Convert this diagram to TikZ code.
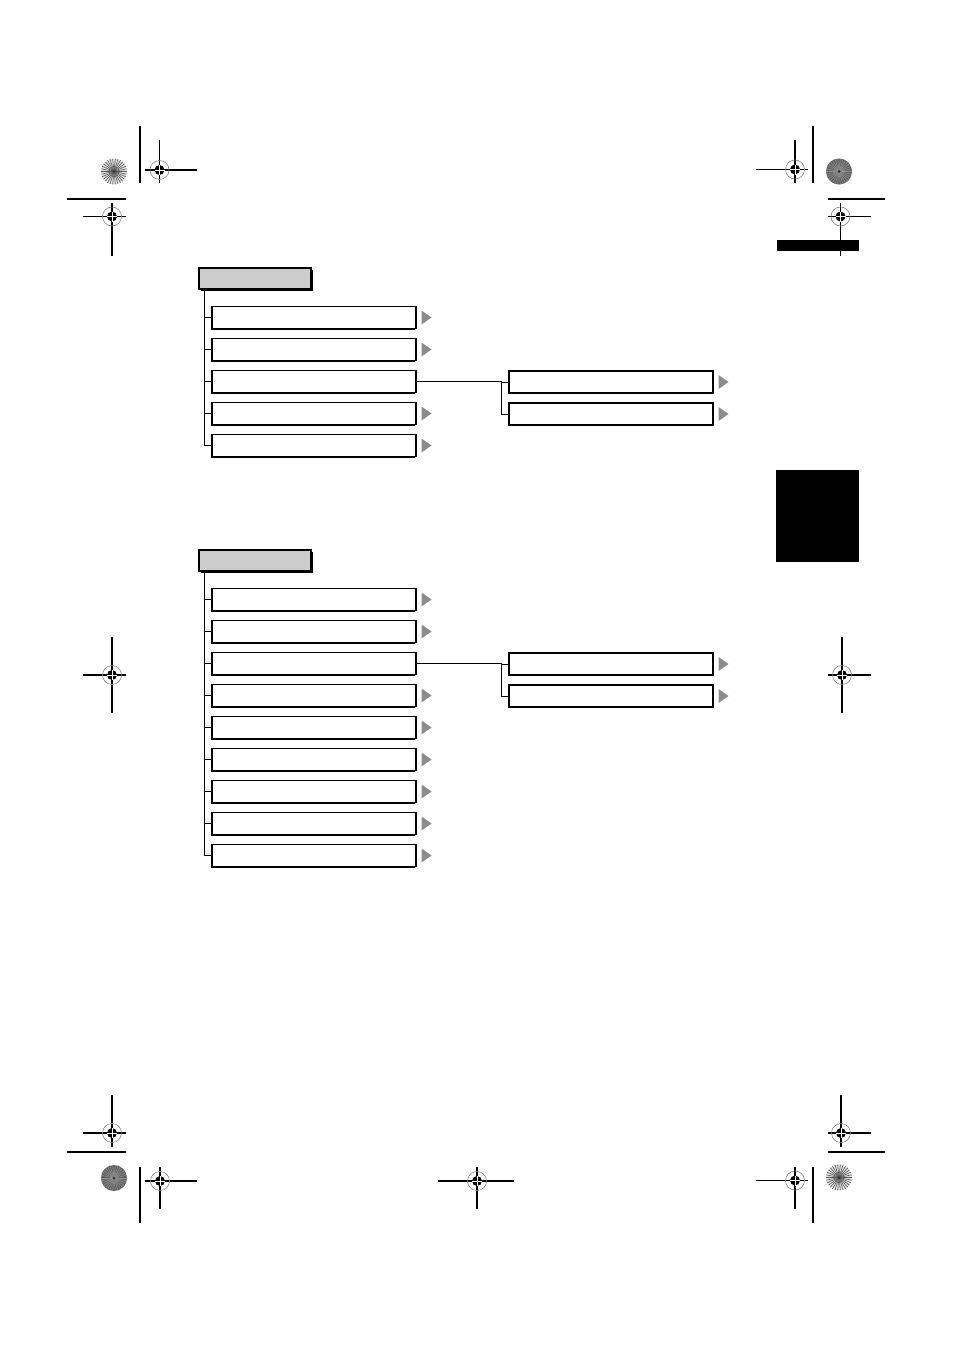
\documentclass[tikz,border=0pt]{standalone}
\usetikzlibrary{shadows}
\definecolor{tipgray}{gray}{0.55}
\tikzset{
  headbox/.style={draw, line width=2.2pt, fill=gray!40, minimum width=112pt, minimum height=21pt, inner sep=0pt,
    drop shadow={shadow xshift=1.8pt, shadow yshift=-1.8pt, fill=black, opacity=1}},
  itembox/.style={draw, line width=1.1pt, fill=white, minimum width=204pt, minimum height=22pt, inner sep=0pt,
    drop shadow={shadow xshift=-1.3pt, shadow yshift=-1.3pt, fill=black, opacity=1}},
  cropline/.style={line width=1.2pt}
}
% gray arrow head right of a menu box
\newcommand{\menutip}[1]{\fill[tipgray] (#1.east) ++(5,7) -- ++(10,-7) -- ++(-10,-7) -- cycle;}
% registration cross: centre x, y, then line ends x1, x2, y1, y2
\newcommand{\regmark}[6]{%
  \draw[cropline] (#3,#2) -- (#4,#2);
  \draw[cropline] (#1,#5) -- (#1,#6);
  \draw[gray, line width=0.6pt] (#1,#2) circle (9.5);
  \fill (#1,#2) circle (5);
  \draw[white, line width=0.7pt] (#1-5,#2) -- (#1+5,#2) (#1,#2-5) -- (#1,#2+5);
}
% star target: centre x, y, fill, spokes
\newcommand{\starmark}[4]{%
  \fill[#3] (#1,#2) circle (13);
  \foreach \a in {0,12,...,348} \draw[#4, line width=0.6pt] (#1,#2) -- ++(\a:13);
  \fill[black!80] (#1,#2) circle (1.5);
}

\begin{document}
\begin{tikzpicture}[x=1pt, y=-1pt, line width=0.9pt]
    \useasboundingbox (0,0) rectangle (954,1350);

    % page marks
    \draw[cropline] (140,126) -- (140,183);
    \draw[cropline] (67,199) -- (126,199);
    \draw[cropline] (813,126) -- (813,183);
    \draw[cropline] (828,199) -- (885,199);
    \draw[cropline] (67,1152) -- (126,1152);
    \draw[cropline] (140,1167) -- (140,1223);
    \draw[cropline] (828,1152) -- (885,1152);
    \draw[cropline] (813,1167) -- (813,1223);
    \starmark{114}{171.5}{gray!25}{black!65}
    \starmark{839}{171.5}{black!62}{black!45}
    \starmark{114}{1178}{black!62}{black!45}
    \starmark{839}{1177.5}{gray!25}{black!65}
    \regmark{159.5}{170}{145}{197}{140}{183}
    \regmark{112}{216.5}{83}{126}{203}{256}
    \regmark{795}{169.5}{756}{808}{140}{183}
    \regmark{840.5}{216.5}{828}{871}{203}{256}
    \regmark{112}{675}{83}{126}{637}{713}
    \regmark{842}{675}{828}{871}{637}{713}
    \regmark{112}{1133}{83}{126}{1095}{1147}
    \regmark{841}{1133}{828}{871}{1095}{1147}
    \regmark{160}{1181}{145}{197}{1167}{1209}
    \regmark{477}{1181}{438}{514}{1167}{1209}
    \regmark{795}{1180.5}{756}{808}{1167}{1209}
    \fill (777,239.5) rectangle (859,250.5);
    \fill (776,470) rectangle (859,562);

    % first menu
    \coordinate (t1) at (204,0);
    \node[headbox] (h1) at (255,278.5) {};
    \foreach \i in {1,...,5}
        \node[itembox] (a\i) at (314,{317.5+32*(\i-1)}) {};
    \draw (t1 |- h1.south) -- (t1 |- a5) -- (a5.west);
    \foreach \i in {1,...,4}
        \draw (t1 |- a\i) -- (a\i.west);
    \foreach \i in {1,2,4,5}
        \menutip{a\i}
    \node[itembox] (s1) at (611,382) {};
    \node[itembox] (s2) at (611,414) {};
    \path (a3.east) ++(85,0) coordinate (j1);
    \draw (a3.east) -- (j1) -- (j1 |- s1) -- (s1.west);
    \draw (j1) -- (j1 |- s2) -- (s2.west);
    \menutip{s1}
    \menutip{s2}

    % second menu
    \node[headbox] (h2) at (255,560.5) {};
    \foreach \i in {1,...,9}
        \node[itembox] (b\i) at (314,{599.5+32*(\i-1)}) {};
    \draw (t1 |- h2.south) -- (t1 |- b9) -- (b9.west);
    \foreach \i in {1,...,8}
        \draw (t1 |- b\i) -- (b\i.west);
    \foreach \i in {1,2,4,5,6,7,8,9}
        \menutip{b\i}
    \node[itembox] (s3) at (611,664) {};
    \node[itembox] (s4) at (611,696) {};
    \path (b3.east) ++(85,0) coordinate (j2);
    \draw (b3.east) -- (j2) -- (j2 |- s3) -- (s3.west);
    \draw (j2) -- (j2 |- s4) -- (s4.west);
    \menutip{s3}
    \menutip{s4}
\end{tikzpicture}
\end{document}
